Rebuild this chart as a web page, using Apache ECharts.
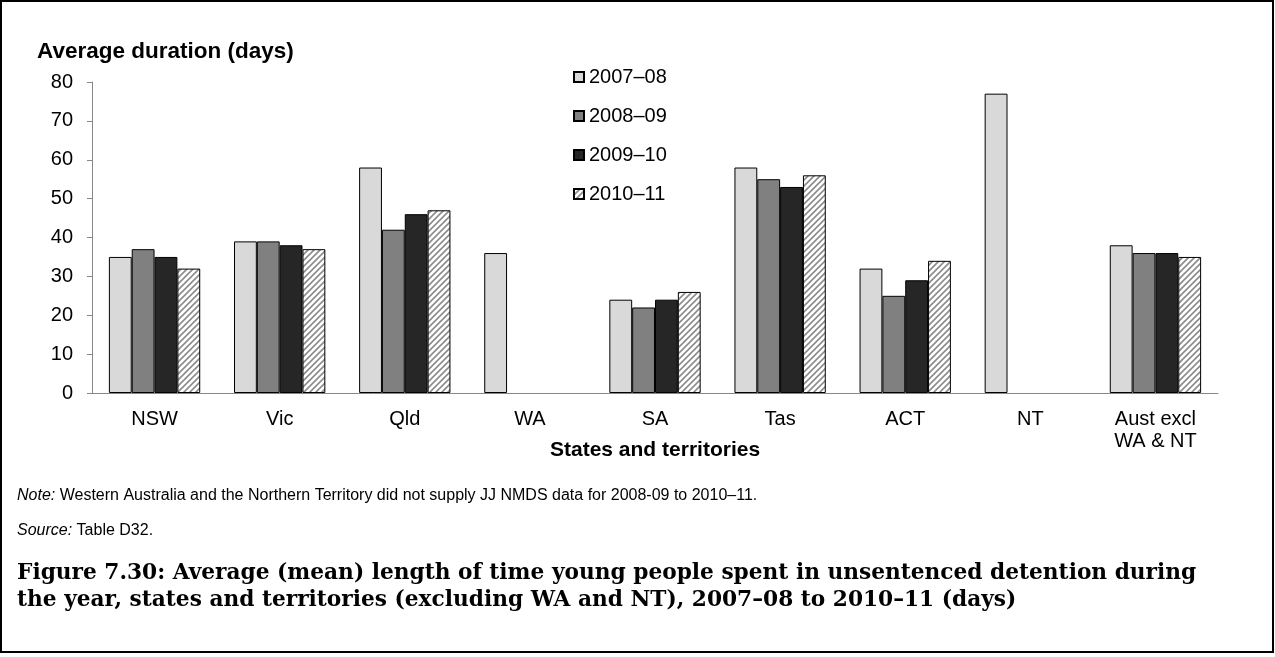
<!DOCTYPE html>
<html>
<head>
<meta charset="utf-8">
<script src="https://cdn.jsdelivr.net/npm/echarts@6/dist/echarts.min.js"></script>
<style>
html,body{margin:0;padding:0;background:#fff;}
#chart{width:1275px;height:657px;}
</style>
</head>
<body>
<div id="chart"></div>
<script>
// data
var categories = ['NSW', 'Vic', 'Qld', 'WA', 'SA', 'Tas', 'ACT', 'NT', 'Aust excl\nWA & NT'];
var years = ['2007\u201308', '2008\u201309', '2009\u201310', '2010\u201311'];
var v0708 = [35, 39, 58, 36, 24, 58, 32, 77, 38];
var v0809 = [37, 39, 42, null, 22, 55, 25, null, 36];
var v0910 = [35, 38, 46, null, 24, 53, 29, null, 36];
var v1011 = [32, 37, 47, null, 26, 56, 34, null, 35];
var yTicks = [0, 10, 20, 30, 40, 50, 60, 70, 80];

var fontSans = 'Arial, "Liberation Sans", sans-serif';

// diagonal hatch for 2010-11
function hatch(){
	var c = document.createElement('canvas');
	c.width = 6; c.height = 6;
	var ctx = c.getContext('2d');
	ctx.fillStyle = '#fff';
	ctx.fillRect(0, 0, 6, 6);
	ctx.strokeStyle = '#8c8c8c';
	ctx.lineWidth = 1.6;
	ctx.beginPath();
	ctx.moveTo(-1, 7); ctx.lineTo(7, -1);
	ctx.moveTo(-4, 4); ctx.lineTo(4, -4);
	ctx.moveTo(2, 10); ctx.lineTo(10, 2);
	ctx.stroke();
	return c;
}

var fills = ['#d9d9d9', '#808080', '#262626', {image: hatch(), repeat: 'repeat'}];
var values = [v0708, v0809, v0910, v1011];

var series = [];
for (var i = 0; i < years.length; i++) {
	series.push({
		name: years[i],
		type: 'bar',
		data: values[i],
		barGap: '0%',
		barCategoryGap: '27%',
		itemStyle: {
			color: fills[i],
			borderColor: '#000',
			borderWidth: 1
		}
	});
}

var myChart = echarts.init(document.getElementById('chart'), null, {renderer: 'canvas'});
var option = {
	animation: false,
	backgroundColor: '#fff',
	grid: {left: 92, right: 57, top: 82, bottom: 264},
	legend: {
		orient: 'vertical',
		left: 568,
		top: 61,
		icon: 'rect',
		itemWidth: 10,
		itemHeight: 10,
		itemGap: 17,
		data: years,
		textStyle: {fontFamily: fontSans, fontSize: 20, color: '#000', lineHeight: 22}
	},
	xAxis: {
		type: 'category',
		data: categories,
		axisLine: {lineStyle: {color: '#888', width: 1}},
		axisTick: {alignWithLabel: true, length: 5, lineStyle: {color: '#888'}},
		axisLabel: {fontFamily: fontSans, fontSize: 20, color: '#000', margin: 15, lineHeight: 22, interval: 0}
	},
	yAxis: {
		type: 'value',
		min: yTicks[0],
		max: yTicks[yTicks.length - 1],
		interval: 10,
		splitLine: {show: false},
		axisLine: {show: true, lineStyle: {color: '#888', width: 1}},
		axisTick: {show: true, length: 5, lineStyle: {color: '#888'}},
		axisLabel: {fontFamily: fontSans, fontSize: 20, color: '#000', margin: 19}
	},
	graphic: [
		{type: 'rect', shape: {x: 1, y: 1, width: 1272, height: 651}, style: {fill: 'none', stroke: '#000', lineWidth: 2}, silent: true},
		{type: 'text', left: 37, top: 40, style: {text: 'Average duration (days)', font: 'bold 22.5px ' + fontSans, fill: '#000'}},
		{type: 'text', left: 550, top: 440, style: {text: 'States and territories', font: 'bold 21px ' + fontSans, fill: '#000'}},
		{type: 'text', left: 17, top: 488, style: {
			text: '{i|Note:} Western Australia and the Northern Territory did not supply JJ NMDS data for 2008-09 to 2010\u201311.',
			rich: {i: {fontStyle: 'italic', fontFamily: fontSans, fontSize: 16, fill: '#000'}},
			fontFamily: fontSans, fontSize: 16, fill: '#000'}},
		{type: 'text', left: 17, top: 523, style: {
			text: '{i|Source:} Table D32.',
			rich: {i: {fontStyle: 'italic', fontFamily: fontSans, fontSize: 16, fill: '#000'}},
			fontFamily: fontSans, fontSize: 16, fill: '#000'}},
		{type: 'text', left: 17, top: 560, style: {
			text: 'Figure 7.30: Average (mean) length of time young people spent in unsentenced detention during\nthe year, states and territories (excluding WA and NT), 2007\u201308 to 2010\u201311 (days)',
			font: 'bold 21.7px "DejaVu Serif", serif', lineHeight: 27, fill: '#000'}}
	],
	series: series
};
myChart.setOption(option, true);
</script>
</body>
</html>
